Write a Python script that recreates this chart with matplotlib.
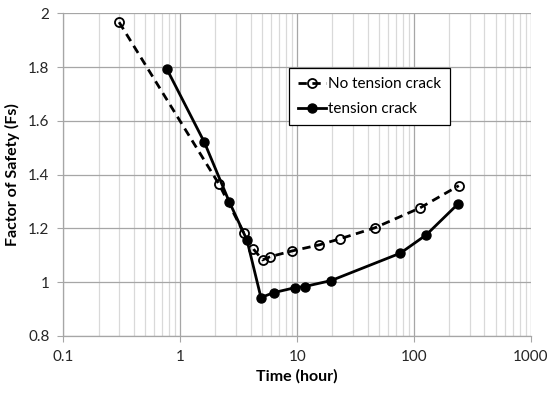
import matplotlib
matplotlib.use("Agg")
import matplotlib.pyplot as plt
from matplotlib.ticker import FixedLocator, LogLocator, NullFormatter

plt.rcParams['font.family'] = ['Lato', 'DejaVu Sans']

# No tension crack (dashed, open markers)
t_no = [0.30, 2.15, 3.48, 4.23, 5.06, 5.89, 9.0, 15.5, 23.1, 46, 112, 241]
fs_no = [1.967, 1.364, 1.184, 1.123, 1.083, 1.095, 1.116, 1.139, 1.161, 1.202, 1.276, 1.359]

# tension crack (solid, filled markers)
t_tc = [0.77, 1.61, 2.62, 3.72, 4.90, 6.28, 9.63, 11.6, 19.5, 76.3, 127, 236]
fs_tc = [1.792, 1.520, 1.300, 1.157, 0.943, 0.961, 0.980, 0.984, 1.006, 1.108, 1.176, 1.290]

xticks = [0.1, 1, 10, 100, 1000]
xticklabels = ['0.1', '1', '10', '100', '1000']
yticks = [0.8, 1.0, 1.2, 1.4, 1.6, 1.8, 2.0]
yticklabels = ['0.8', '1', '1.2', '1.4', '1.6', '1.8', '2']

fig = plt.figure(figsize=(5.5, 3.95), dpi=100)
ax = fig.add_axes([0.1151, 0.1494, 0.8504, 0.8169])

ax.plot(t_no, fs_no, color='black', lw=2.0, ls=(0, (3, 2)), marker='o',
        ms=6.5, mfc='none', mec='black', mew=1.3, label='No tension crack', zorder=3)
ax.plot(t_tc, fs_tc, color='black', lw=2.0, marker='o', ms=6.5,
        mfc='black', mec='black', label='tension crack', zorder=3)

ax.set_xscale('log')
ax.set_xlim(0.1, 1000)
ax.set_ylim(0.8, 2.0)
ax.xaxis.set_major_locator(FixedLocator(xticks))
ax.set_xticklabels(xticklabels)
ax.xaxis.set_minor_locator(LogLocator(base=10, subs=range(2, 10)))
ax.xaxis.set_minor_formatter(NullFormatter())
ax.set_yticks(yticks)
ax.set_yticklabels(yticklabels)

ax.grid(True, which='major', color='#a6a6a6', lw=0.9)
ax.grid(True, which='minor', axis='x', color='#d9d9d9', lw=0.9)
ax.set_axisbelow(True)

for side in ['top', 'right']:
    ax.spines[side].set_visible(False)
for side in ['left', 'bottom']:
    ax.spines[side].set_color('#a6a6a6')
    ax.spines[side].set_linewidth(0.9)

ax.tick_params(axis='both', which='major', length=4, color='#a6a6a6',
               labelsize=11, labelcolor='#262626', pad=6)
ax.tick_params(axis='x', which='minor', length=0)

ax.set_xlabel('Time (hour)', fontsize=11.5, fontweight='bold', labelpad=4)
ax.set_ylabel('Factor of Safety (Fs)', fontsize=11.5, fontweight='bold', labelpad=6)

leg = ax.legend(loc='upper left', bbox_to_anchor=(0.4826, 0.8305), fontsize=11,
                frameon=True, fancybox=False, edgecolor='black', framealpha=1,
                handlelength=1.8, handletextpad=0.15, borderpad=0.6,
                labelspacing=0.7, borderaxespad=0)
leg.get_frame().set_linewidth(0.9)

fig.savefig('out.png', dpi=100)
